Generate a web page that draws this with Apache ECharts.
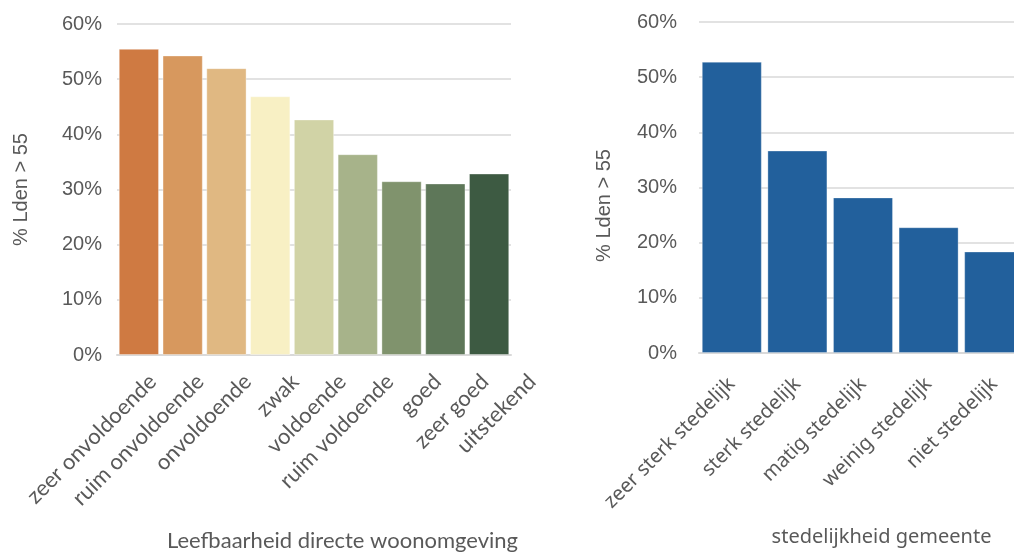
<!DOCTYPE html>
<html>
<head>
<meta charset="utf-8">
<script src="https://cdn.jsdelivr.net/npm/echarts@6/dist/echarts.min.js"></script>
<style>
  html, body { margin: 0; padding: 0; background: #ffffff; overflow: hidden; }
  #chart { width: 1030px; height: 552px; }
</style>
</head>
<body>
<div id="chart"></div>
<script>
// Share of dwellings with Lden > 55 dB, by liveability class and by urbanity
const liveabilityCategories = ['zeer onvoldoende', 'ruim onvoldoende', 'onvoldoende', 'zwak', 'voldoende', 'ruim voldoende', 'goed', 'zeer goed', 'uitstekend'];
const liveabilityValues = [55.5, 54.3, 52.0, 46.9, 42.7, 36.4, 31.5, 31.1, 32.9];
const liveabilityColors = ['#CF7A42', '#D7985E', '#E0B882', '#F8F0C4', '#D1D3A6', '#A7B38A', '#80936D', '#5E7759', '#3D5A42'];

const urbanityCategories = ['zeer sterk stedelijk', 'sterk stedelijk', 'matig stedelijk', 'weinig stedelijk', 'niet stedelijk'];
const urbanityValues = [52.8, 36.7, 28.2, 22.8, 18.4];
const urbanityColor = '#22609C';

const yTicks = [0, 10, 20, 30, 40, 50, 60];

const yTitle = '% Lden > 55';
const leftXTitle = 'Leefbaarheid directe woonomgeving';
const rightXTitle = 'stedelijkheid gemeente';

const tickFont = { fontFamily: 'Liberation Sans', fontSize: 20, color: '#595959' };
const gridLine = { show: true, lineStyle: { color: '#D9D9D9', width: 1.5 } };

function valueAxis(gridIndex, showLabels, margin) {
  return {
    type: 'value', gridIndex: gridIndex,
    min: yTicks[0], max: yTicks[yTicks.length - 1], interval: 10,
    axisLine: { show: false }, axisTick: { show: false },
    splitLine: showLabels ? gridLine : { show: false },
    axisLabel: showLabels ? Object.assign({ formatter: '{value}%', margin: margin }, tickFont) : { show: false }
  };
}

const chart = echarts.init(document.getElementById('chart'), null, { renderer: 'canvas' });

chart.setOption({
  animation: false,
  backgroundColor: '#ffffff',
  grid: [
    { left: 117, top: 24, width: 394, height: 331, outerBoundsMode: 'none', containLabel: false },
    { left: 699, top: 22, width: 328, height: 331, outerBoundsMode: 'none', containLabel: false },
    // label strip for the liveability categories
    { left: 129, top: 24, width: 427, height: 331, outerBoundsMode: 'none', containLabel: false }
  ],
  xAxis: [
    {
      type: 'category', gridIndex: 0, data: liveabilityCategories,
      axisLine: { show: true, lineStyle: { color: '#D9D9D9', width: 2 } },
      axisTick: { show: false }, axisLabel: { show: false }
    },
    {
      type: 'category', gridIndex: 1, data: urbanityCategories,
      axisLine: { show: true, lineStyle: { color: '#D9D9D9', width: 2 } },
      axisTick: { show: false },
      axisLabel: { rotate: 45, margin: 28, interval: 0, fontFamily: 'Noto Sans', fontSize: 20, color: '#595959' },
      name: rightXTitle, nameLocation: 'middle', nameGap: 174,
      nameTextStyle: { fontFamily: 'Noto Sans', fontSize: 20, color: '#595959', padding: [0, 0, 0, 37] }
    },
    {
      type: 'category', gridIndex: 2, data: liveabilityCategories,
      axisLine: { show: false }, axisTick: { show: false },
      axisLabel: { rotate: 45, margin: 23, interval: 0, fontFamily: 'Lato', fontSize: 22, color: '#595959' },
      name: leftXTitle, nameLocation: 'middle', nameGap: 175,
      nameTextStyle: { fontFamily: 'Lato', fontSize: 22, color: '#595959' }
    }
  ],
  yAxis: [
    Object.assign(valueAxis(0, true, 15), {
      name: yTitle, nameLocation: 'middle', nameGap: 76, nameRotate: 90,
      nameTextStyle: { fontFamily: 'Liberation Sans', fontSize: 20, color: '#595959', padding: [0, 0, 10, 0] }
    }),
    Object.assign(valueAxis(1, true, 22), {
      name: yTitle, nameLocation: 'middle', nameGap: 85, nameRotate: 90,
      nameTextStyle: { fontFamily: 'Liberation Sans', fontSize: 20, color: '#595959', padding: [0, 36, 0, 0] }
    }),
    valueAxis(2, false, 0)
  ],
  series: [
    {
      type: 'bar', xAxisIndex: 0, yAxisIndex: 0,
      barCategoryGap: '8%',
      data: liveabilityValues.map((v, i) => ({ value: v, itemStyle: { color: liveabilityColors[i] } })),
      itemStyle: { borderColor: 'rgba(255,255,255,0.35)', borderWidth: 1 }
    },
    {
      type: 'bar', xAxisIndex: 1, yAxisIndex: 1,
      barCategoryGap: '8.5%',
      data: urbanityValues,
      itemStyle: { color: urbanityColor, borderColor: 'rgba(255,255,255,0.3)', borderWidth: 1 }
    }
  ]
});
</script>
</body>
</html>
